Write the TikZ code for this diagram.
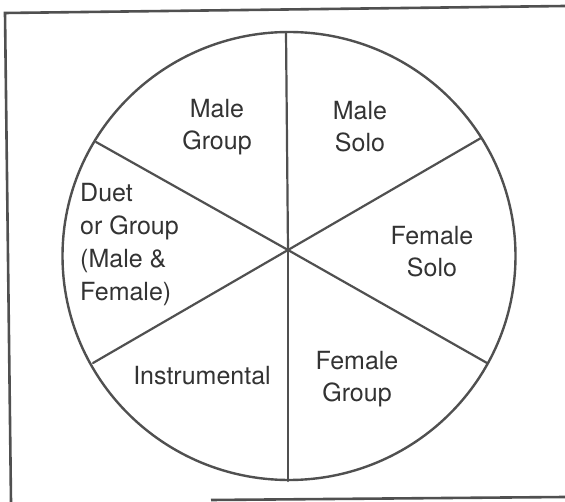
\documentclass[tikz,border=0pt]{standalone}
\usepackage{fontspec}
\setmainfont{TeX Gyre Heros}
\definecolor{ink}{HTML}{505050}
\definecolor{txt}{HTML}{333333}
\begin{document}
\begin{tikzpicture}[x=1pt,y=-1pt,
  rim/.style={draw=ink,line width=2.4pt},
  spoke/.style={draw=ink,line width=2.2pt,line cap=round},
  frameline/.style={draw=ink,line width=2.6pt},
  lab/.style={text=txt,font=\fontsize{25}{32}\selectfont,align=center,inner sep=0pt},
  llab/.style={text=txt,font=\fontsize{25}{33}\selectfont,align=left,inner sep=0pt,anchor=west}]
\useasboundingbox (0,0) rectangle (565,502);
\fill[white] (0,0) rectangle (565,502);
% frame
\coordinate (f1) at (5,13);
\coordinate (f2) at (565,6);
\coordinate (f3) at (11,502);
\coordinate (f4) at (211,500);
\coordinate (f5) at (565,497);
\draw[frameline] (f2) -- (f1) -- (f3);
\draw[frameline] (f4) -- (f5);
% circle
\coordinate (cc) at (289,256);
\draw[rim] (cc) ellipse [x radius=226.5, y radius=224];
% spokes
\coordinate (o) at (288,250);
\coordinate (pT) at (286,32);
\coordinate (pB) at (288,481);
\coordinate (pUL) at (96,142);
\coordinate (pUR) at (481,138);
\coordinate (pLL) at (93,363);
\coordinate (pLR) at (487,363);
\foreach \p in {pT,pB,pUL,pUR,pLL,pLR} \draw[spoke] (o) -- (\p);
% labels
\node[lab] (mg) at (217,127) {Male\\Group};
\node[lab] (ms) at (360,127) {Male\\Solo};
\node[lab] (fs) at (432,252) {Female\\Solo};
\node[lab] (fg) at (357,379) {Female\\Group};
\node[lab] (ins) at (202,376) {Instrumental};
\node[llab] (dg) at (80,245) {Duet\\or Group\\(Male \&\\Female)};
\end{tikzpicture}
\end{document}
